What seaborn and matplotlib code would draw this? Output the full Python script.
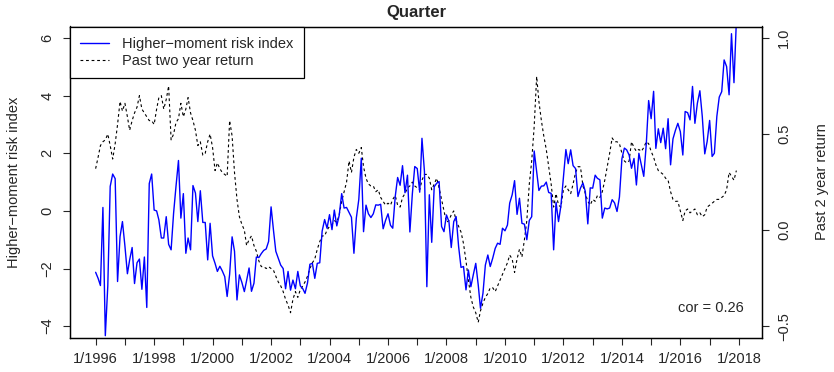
import matplotlib
matplotlib.use("Agg")
import matplotlib.pyplot as plt
import seaborn as sns
import pandas as pd

# monthly values, Jan 1996 - Dec 2017
risk_index = [
    -2.13, -2.34, -2.59, 0.12, -4.33, -2.6, 0.85, 1.28, 1.12, -2.45, -0.89, -0.37,
    -1.22, -2.18, -1.7, -1.27, -2.52, -1.8, -1.67, -2.72, -1.6, -3.35, 0.95, 1.28,
    0.03, 0.0, -0.31, -0.94, -0.94, -0.2, -1.16, -1.35, -0.08, 0.85, 1.75, -0.25,
    0.6, -1.47, -0.94, -1.35, 0.88, 0.62, -0.37, 0.7, -0.4, -0.4, -1.7, -0.43,
    -1.56, -1.82, -2.1, -1.92, -2.08, -2.28, -2.97, -2.2, -0.9, -1.4, -3.09, -2.22,
    -2.48, -2.8, -2.42, -1.98, -2.79, -2.51, -1.6, -1.62, -1.48, -1.37, -1.32, -1.06,
    0.14, -0.7, -1.4, -1.64, -1.88, -2.0, -2.7, -2.1, -2.75, -2.4, -2.7, -2.1,
    -2.6, -2.7, -2.86, -2.5, -1.85, -1.82, -2.34, -1.82, -1.8, -0.7, -0.3, -0.6,
    -0.13, -0.65, 0.03, -0.52, -0.15, 0.6, 0.1, 0.12, -0.05, -0.22, -1.47, -0.25,
    0.4, 1.83, -0.72, 0.2, -0.1, -0.23, -0.1, 0.21, 0.2, 0.23, -0.62, -0.33,
    -0.1, -0.5, -0.6, 0.5, 1.16, 0.89, 1.57, 0.63, 1.24, -0.73, 0.6, 1.54,
    1.47, 0.65, 2.52, 1.37, -2.63, 0.56, -1.09, 0.84, 0.96, 1.02, -0.54, -0.72,
    -0.14, -0.37, -1.27, -0.37, -0.2, -1.24, -1.96, -1.93, -2.74, -2.05, -2.63, -2.22,
    -1.82, -2.57, -3.38, -2.86, -1.88, -1.53, -1.93, -1.64, -1.3, -1.12, -1.16, -0.6,
    -0.69, -0.49, 0.27, 0.56, 1.05, -0.12, 0.44, -0.43, -0.46, -1.0, -0.33, -0.2,
    2.08, 1.37, 0.71, 0.86, 0.87, 1.0, 0.64, 0.61, -1.35, 0.3, -0.37, 0.18,
    1.15, 2.13, 1.64, 2.12, 1.57, 1.47, 0.5, 0.79, 0.97, 0.67, -0.45, 0.8,
    0.79, 1.24, 1.13, 1.08, -0.25, 0.1, 0.07, 0.1, 0.39, 0.28, -0.02, 0.48,
    1.81, 2.18, 2.12, 1.94, 1.48, 1.82, 0.9, 2.0, 1.6, 1.2, 2.3, 3.83,
    3.2, 4.15, 2.17, 2.85, 2.37, 2.87, 2.16, 3.2, 1.6, 2.5, 2.8, 3.04,
    2.75, 1.94, 3.45, 3.41, 3.16, 4.32, 3.04, 3.74, 4.17, 3.28, 1.98, 2.41,
    3.14, 1.89, 2.0, 3.28, 3.95, 4.14, 5.24, 5.01, 4.03, 6.15, 4.45, 6.6,
]

past_return = [
    0.32, 0.38, 0.44, 0.46, 0.47, 0.5, 0.44, 0.37, 0.45, 0.55, 0.67, 0.62,
    0.66, 0.59, 0.52, 0.57, 0.61, 0.64, 0.7, 0.63, 0.61, 0.59, 0.57, 0.57,
    0.55, 0.63, 0.69, 0.7, 0.63, 0.68, 0.75, 0.47, 0.5, 0.56, 0.58, 0.66,
    0.59, 0.63, 0.69, 0.61, 0.57, 0.52, 0.44, 0.46, 0.39, 0.4, 0.46, 0.5,
    0.43, 0.31, 0.35, 0.32, 0.3, 0.29, 0.28, 0.57, 0.49, 0.3, 0.16, 0.07,
    0.03, 0.0, -0.08, -0.05, -0.03, -0.08, -0.11, -0.16, -0.19, -0.19, -0.2, -0.19,
    -0.2, -0.21, -0.24, -0.27, -0.29, -0.32, -0.36, -0.39, -0.43, -0.36, -0.32, -0.35,
    -0.31, -0.29, -0.27, -0.24, -0.2, -0.17, -0.15, -0.1, -0.06, -0.03, -0.03, 0.0,
    0.02, 0.03, 0.05, 0.04, 0.08, 0.15, 0.2, 0.25, 0.36, 0.3, 0.38, 0.42,
    0.4, 0.43, 0.33, 0.27, 0.24, 0.23, 0.23, 0.2, 0.21, 0.17, 0.15, 0.13,
    0.14, 0.13, 0.16, 0.18, 0.13, 0.12, 0.17, 0.19, 0.22, 0.23, 0.25, 0.23,
    0.22, 0.21, 0.26, 0.29, 0.29, 0.27, 0.21, 0.24, 0.27, 0.22, 0.16, 0.1,
    0.04, 0.05, 0.08, 0.1, 0.05, 0.02, -0.01, -0.07, -0.16, -0.26, -0.35, -0.4,
    -0.43, -0.48, -0.42, -0.38, -0.35, -0.33, -0.3, -0.3, -0.32, -0.29, -0.26, -0.23,
    -0.2, -0.17, -0.13, -0.15, -0.22, -0.15, -0.1, -0.14, -0.05, 0.05, 0.24, 0.36,
    0.54, 0.8, 0.67, 0.57, 0.49, 0.42, 0.33, 0.24, 0.12, 0.19, 0.13, 0.12,
    0.21, 0.23, 0.21, 0.19, 0.24, 0.3, 0.33, 0.33, 0.23, 0.19, 0.15, 0.13,
    0.16, 0.15, 0.18, 0.17, 0.2, 0.26, 0.33, 0.4, 0.48, 0.46, 0.46, 0.45,
    0.4, 0.36, 0.35, 0.36, 0.46, 0.43, 0.41, 0.42, 0.41, 0.43, 0.46, 0.45,
    0.41, 0.38, 0.34, 0.31, 0.3, 0.29, 0.27, 0.26, 0.2, 0.16, 0.15, 0.15,
    0.1, 0.05, 0.1, 0.11, 0.09, 0.1, 0.11, 0.08, 0.09, 0.07, 0.08, 0.12,
    0.13, 0.14, 0.15, 0.16, 0.16, 0.17, 0.18, 0.21, 0.3, 0.28, 0.26, 0.31,
]

tick_years = list(range(1996, 2019))
left_ticks = [-4, -2, 0, 2, 4, 6]
right_ticks = [-0.5, 0.0, 0.5, 1.0]

dates = pd.date_range("1996-01-01", periods=len(risk_index), freq="MS")
df = pd.DataFrame({"date": dates, "risk": risk_index, "ret": past_return})

sns.set_style("white")
plt.rcParams["font.family"] = ["Liberation Sans", "DejaVu Sans"]
FS = 10.5

fig = plt.figure(figsize=(8.34, 3.72), dpi=100)
ax = fig.add_axes([70 / 834, (372 - 337.7) / 372, 692 / 834, 311.2 / 372])
ax2 = ax.twinx()

sns.lineplot(data=df, x="date", y="risk", ax=ax, color="#0000ff", linewidth=1.0,
             legend=False)
sns.lineplot(data=df, x="date", y="ret", ax=ax2, color="black", linewidth=0.8,
             legend=False)
ax2.lines[0].set_dashes([2.5, 2.5])

# R-style limits: 4% padding
span = dates[-1] - dates[0]
ax.set_xlim(dates[0] - span * 0.04, dates[-1] + span * 0.04)
ax.set_ylim(-4 - 0.4, 6 + 0.4)
ax2.set_ylim(-0.5 - 0.06, 1.0 + 0.06)

ax.set_xticks([pd.Timestamp(f"{y}-01-01") for y in tick_years])
ax.set_xticklabels([f"1/{y}" if y % 2 == 0 else "" for y in tick_years], fontsize=FS)
ax.set_yticks(left_ticks)
ax.set_yticklabels([f"{v}".replace("-", "\u2212") for v in left_ticks],
                   rotation=90, va="center", fontsize=FS)
ax2.set_yticks(right_ticks)
ax2.set_yticklabels([f"{v:.1f}".replace("-", "\u2212") for v in right_ticks],
                    rotation=90, va="center", fontsize=FS)

for a in (ax, ax2):
    for s in a.spines.values():
        s.set_color("black")
        s.set_linewidth(0.9)
ax.tick_params(axis="x", direction="out", length=5, width=0.8, pad=5, bottom=True)
ax.tick_params(axis="y", direction="out", length=5, width=0.8, pad=6, left=True)
ax2.tick_params(axis="y", direction="out", length=5, width=0.8, pad=6, right=True)

ax.set_xlabel("")
ax.set_ylabel("Higher\u2212moment risk index", fontsize=FS, labelpad=14)
ax2.set_ylabel("Past 2 year return", fontsize=FS, labelpad=17)
ax.set_title("Quarter", fontsize=12, fontweight="bold", pad=7)

handles = [ax.lines[0], ax2.lines[0]]
leg = ax.legend(handles, ["Higher\u2212moment risk index", "Past two year return"],
                loc="upper left", fontsize=FS, frameon=True, fancybox=False,
                borderaxespad=0, borderpad=0.7, labelspacing=0.2,
                handlelength=2.0, handletextpad=0.9, framealpha=1)
leg.get_frame().set_edgecolor("black")
leg.get_frame().set_linewidth(0.9)
ax.set_zorder(ax2.get_zorder() + 1)
ax.patch.set_visible(False)

ax.text(0.974, 0.095, "cor = 0.26", transform=ax.transAxes, ha="right",
        va="center", fontsize=FS)

fig.savefig("out.png", dpi=100)
plt.close(fig)
